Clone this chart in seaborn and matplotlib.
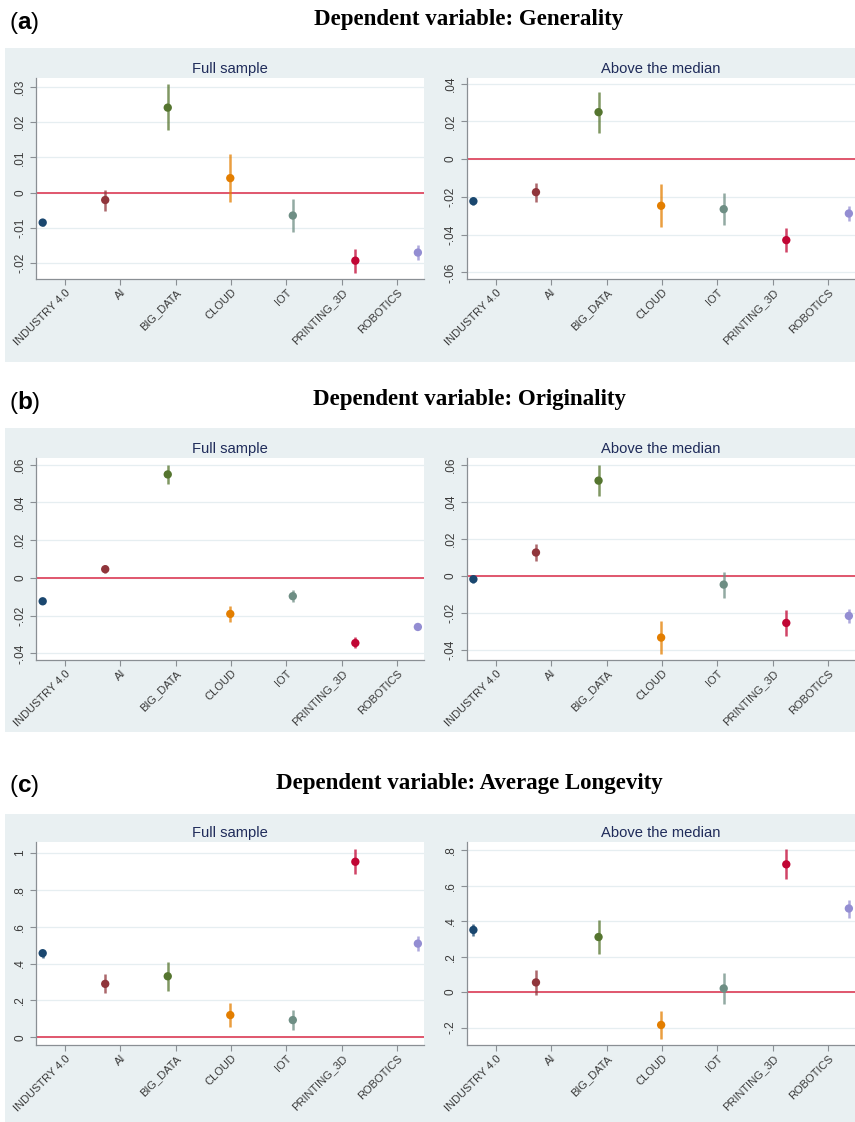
import numpy as np
import pandas as pd
import matplotlib
matplotlib.use("Agg")
import matplotlib.pyplot as plt
import seaborn as sns
from matplotlib.patches import Rectangle

# ---------------- data ----------------
categories = ["INDUSTRY 4.0", "AI", "BIG_DATA", "CLOUD", "IOT", "PRINTING_3D", "ROBOTICS"]
colors = ["#1a476f", "#90353b", "#55752f", "#e37e00", "#6e8e84", "#c10534", "#938dd2"]

section_letters = ["a", "b", "c"]
section_titles = ["Dependent variable: Generality",
                  "Dependent variable: Originality",
                  "Dependent variable: Average Longevity"]
panel_titles = ["Full sample", "Above the median"]

gen_full_coef = [-0.0085, -0.0021, 0.0241, 0.0041, -0.0065, -0.0193, -0.0170]
gen_full_lo = [-0.0094, -0.0052, 0.0178, -0.0028, -0.0112, -0.0227, -0.0191]
gen_full_hi = [-0.0077, 0.0008, 0.0307, 0.0109, -0.0019, -0.0160, -0.0148]
gen_above_coef = [-0.0223, -0.0175, 0.0249, -0.0247, -0.0265, -0.0429, -0.0288]
gen_above_lo = [-0.0244, -0.0228, 0.0141, -0.0362, -0.0350, -0.0493, -0.0330]
gen_above_hi = [-0.0201, -0.0124, 0.0355, -0.0133, -0.0180, -0.0366, -0.0247]

ori_full_coef = [-0.0124, 0.0046, 0.0548, -0.0191, -0.0097, -0.0345, -0.0260]
ori_full_lo = [-0.0129, 0.0025, 0.0498, -0.0235, -0.0129, -0.0373, -0.0264]
ori_full_hi = [-0.0119, 0.0067, 0.0600, -0.0147, -0.0065, -0.0314, -0.0256]
ori_above_coef = [-0.0018, 0.0126, 0.0514, -0.0333, -0.0047, -0.0254, -0.0216]
ori_above_lo = [-0.0040, 0.0081, 0.0432, -0.0419, -0.0117, -0.0324, -0.0254]
ori_above_hi = [-0.0004, 0.0174, 0.0599, -0.0246, 0.0023, -0.0183, -0.0178]

lon_full_coef = [0.456, 0.290, 0.331, 0.121, 0.094, 0.951, 0.508]
lon_full_lo = [0.432, 0.241, 0.252, 0.058, 0.040, 0.885, 0.468]
lon_full_hi = [0.476, 0.341, 0.407, 0.184, 0.148, 1.018, 0.548]
lon_above_coef = [0.351, 0.055, 0.311, -0.185, 0.021, 0.721, 0.472]
lon_above_lo = [0.319, -0.017, 0.215, -0.262, -0.068, 0.640, 0.421]
lon_above_hi = [0.383, 0.126, 0.408, -0.109, 0.108, 0.806, 0.521]

yticks_gen_full = [-0.02, -0.01, 0, 0.01, 0.02, 0.03]
yticks_gen_above = [-0.06, -0.04, -0.02, 0, 0.02, 0.04]
yticks_ori_full = [-0.04, -0.02, 0, 0.02, 0.04, 0.06]
yticks_ori_above = [-0.04, -0.02, 0, 0.02, 0.04, 0.06]
yticks_lon_full = [0, 0.2, 0.4, 0.6, 0.8, 1]
yticks_lon_above = [-0.2, 0, 0.2, 0.4, 0.6, 0.8]

# ---------------- style ----------------
sns.set_theme(style="white")
plt.rcParams["font.family"] = ["Liberation Sans", "DejaVu Sans"]
plt.rcParams["mathtext.fontset"] = "custom"
plt.rcParams["mathtext.rm"] = "Liberation Sans"
plt.rcParams["mathtext.bf"] = "Liberation Sans:bold"

W, H = 855, 1122
fig = plt.figure(figsize=(W / 100, H / 100), dpi=100)
fig.patch.set_facecolor("white")

BG = "#e9f0f2"
GRID = "#e6eef1"
AXC = "#8a8f94"
ZERO = "#e0566d"
NAVY = "#1f2b5a"
TICKC = "#3a3a3a"


def fmt(v):
    s = f"{round(v, 6):g}"
    s = s.replace("-0.", "-.")
    if s.startswith("0."):
        s = s[1:]
    return s


def fx(px):
    return px / W


def fy(py):
    return 1 - py / H


def draw(ax, coef, lo, hi, yticks, ylim, title):
    df = pd.DataFrame({"cat": categories, "coef": coef, "lo": lo, "hi": hi})
    df["pos"] = np.arange(len(df))
    ax.set_facecolor("white")
    for t in yticks:
        ax.axhline(t, color=GRID, lw=0.9, zorder=0)
    ax.axhline(0, color=ZERO, lw=1.4, zorder=1)
    ax.vlines(df["pos"], df["lo"], df["hi"], colors=colors, lw=1.8, alpha=0.75, zorder=2)
    sns.scatterplot(data=df, x="pos", y="coef", hue="cat", hue_order=categories,
                    palette=colors, s=36, linewidth=0, legend=False, ax=ax, zorder=3)
    ax.set_xlim(-0.107, 6.098)
    ax.set_ylim(*ylim)
    ax.set_xticks([0.357 + 0.885 * i for i in range(len(categories))])
    ax.set_xticklabels(categories, rotation=45, ha="right", rotation_mode="anchor",
                       fontsize=8, color=TICKC)
    ax.set_yticks(yticks)
    ax.set_yticklabels([fmt(v) for v in yticks], rotation=90, va="center",
                       fontsize=8.5, color=TICKC)
    ax.tick_params(axis="both", which="both", direction="out", length=4, width=0.8,
                   color=AXC, pad=2, bottom=True, left=True)
    ax.tick_params(axis="y", pad=3)
    ax.set_xlabel("")
    ax.set_ylabel("")
    for s in ["top", "right"]:
        ax.spines[s].set_visible(False)
    for s in ["left", "bottom"]:
        ax.spines[s].set_color(AXC)
        ax.spines[s].set_linewidth(0.9)
    ax.set_title(title, color=NAVY, fontsize=10.6, pad=3.5)


panels = [
    [(gen_full_coef, gen_full_lo, gen_full_hi, yticks_gen_full, (-0.0245, 0.0325)),
     (gen_above_coef, gen_above_lo, gen_above_hi, yticks_gen_above, (-0.0635, 0.043))],
    [(ori_full_coef, ori_full_lo, ori_full_hi, yticks_ori_full, (-0.0435, 0.0635)),
     (ori_above_coef, ori_above_lo, ori_above_hi, yticks_ori_above, (-0.0454, 0.0636))],
    [(lon_full_coef, lon_full_lo, lon_full_hi, yticks_lon_full, (-0.041, 1.058)),
     (lon_above_coef, lon_above_lo, lon_above_hi, yticks_lon_above, (-0.298, 0.847))],
]

# layout in pixels
bands = [(48, 362), (428, 732), (814, 1122)]
plot_y = [(78, 279), (458, 660), (842, 1045)]
header_y = [(23, 19), (403, 400), (786, 784)]
plot_x = [(36, 424), (466.7, 855)]

for r in range(3):
    b0, b1 = bands[r]
    fig.add_artist(Rectangle((fx(5), fy(b1)), fx(855 - 5), (b1 - b0) / H,
                             transform=fig.transFigure, facecolor=BG,
                             edgecolor="none", zorder=-5))
    fig.text(fx(9), fy(header_y[r][0]), "($\\mathbf{%s}$)" % section_letters[r],
             fontsize=17.5, ha="left", va="center", color="black")
    fig.text(fx(469), fy(header_y[r][1]), section_titles[r], fontsize=16.5,
             fontweight="bold", family=["Liberation Serif", "DejaVu Serif"],
             ha="center", va="center", color="black")
    t0, t1 = plot_y[r]
    for c in range(2):
        x0, x1 = plot_x[c]
        ax = fig.add_axes([fx(x0), fy(t1), (x1 - x0) / W, (t1 - t0) / H])
        coef, lo, hi, yt, yl = panels[r][c]
        draw(ax, coef, lo, hi, yt, yl, panel_titles[c])

fig.savefig("out.png", dpi=100, facecolor="white")
